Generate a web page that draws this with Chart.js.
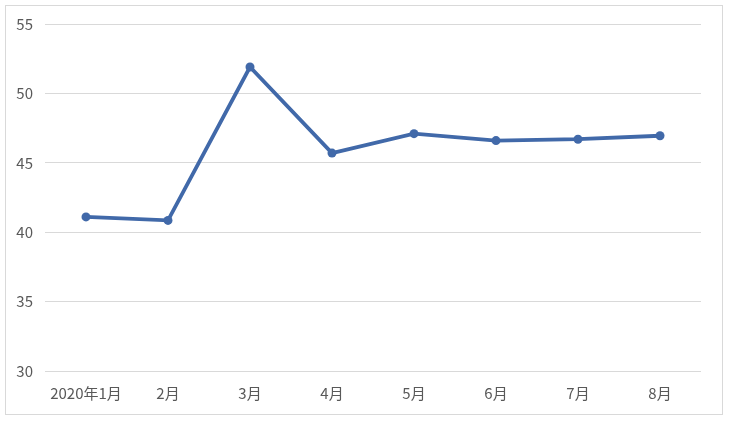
<!DOCTYPE html>
<html>
<head>
<meta charset="utf-8">
<script src="https://cdn.jsdelivr.net/npm/chart.js@4"></script>
<style>
  body{margin:0;background:#fff;}
  #frame{position:absolute;left:5px;top:5px;width:716px;height:408px;border:1px solid #d9d9d9;pointer-events:none;}
  #wrap{position:absolute;left:0;top:0;width:732px;height:424px;}
</style>
</head>
<body>
<div id="wrap"><canvas id="chart" width="732" height="424"></canvas></div>
<div id="frame"></div>
<script>
// data
const months = ["2020年1月","2月","3月","4月","5月","6月","7月","8月"];
const values = [41.1, 40.85, 51.9, 45.7, 47.1, 46.6, 46.7, 46.95];

const lineColor = "#4169a9";
const font = { family: "'Noto Sans CJK SC', 'Noto Sans', sans-serif", size: 15 };

new Chart(document.getElementById("chart"), {
  type: "line",
  data: {
    labels: months,
    datasets: [{
      data: values,
      borderColor: lineColor,
      backgroundColor: lineColor,
      borderWidth: 3.8,
      pointRadius: 4.5,
      pointBackgroundColor: lineColor,
      pointBorderWidth: 0,
      tension: 0,
      fill: false
    }]
  },
  options: {
    responsive: false,
    animation: false,
    layout: { padding: { left: 0, right: 31, top: 24, bottom: 0 } },
    plugins: { legend: { display: false }, tooltip: { enabled: false } },
    scales: {
      x: {
        offset: true,
        grid: { display: false },
        border: { display: false },
        ticks: { color: "#595959", font, padding: 5, maxRotation: 0 },
        afterFit: s => { s.height = 53; }
      },
      y: {
        min: 30, max: 55,
        grid: { color: "#d9d9d9", lineWidth: 1, drawTicks: false },
        border: { display: false },
        ticks: { stepSize: 5, color: "#595959", font, padding: 12 },
        afterFit: s => { s.width = 45; }
      }
    }
  }
});
</script>
</body>
</html>
